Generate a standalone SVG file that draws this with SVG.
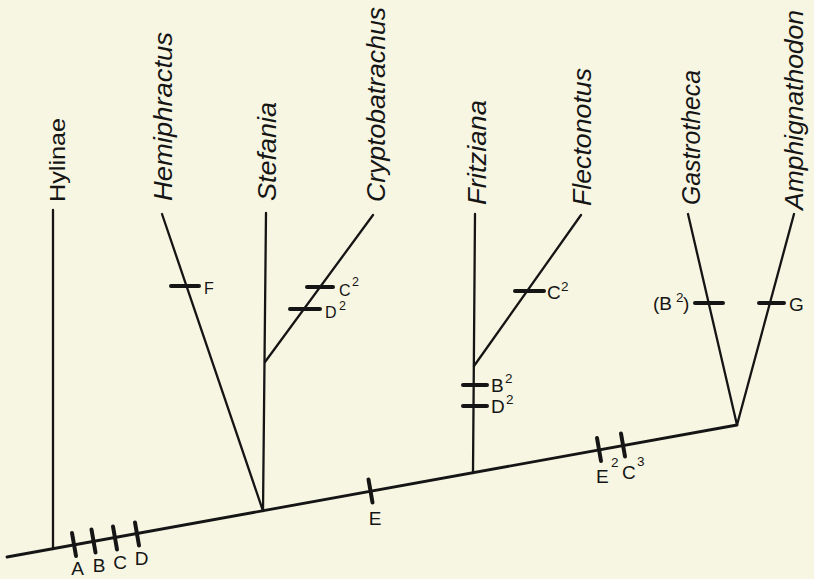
<svg xmlns="http://www.w3.org/2000/svg" width="814" height="579" viewBox="0 0 814 579">
<style>
.bg{fill:#f7f6e2}
.br{stroke:#151515;stroke-width:2.3;fill:none;stroke-linecap:round;stroke-linejoin:round}
.base{stroke:#151515;stroke-width:2.8;fill:none;stroke-linecap:round}
.tk{stroke:#151515;stroke-width:4;stroke-linecap:round}
.tx{font-family:"Liberation Sans",Arial,sans-serif;fill:#151515}
.taxon{font-size:26px;font-style:italic}
.up{font-size:22px}
.lb{font-size:19px}
.lbs{font-size:16px}
.sup{font-size:13.5px}
.sups{font-size:12.5px}
</style>
<rect class="bg" x="0" y="0" width="814" height="579"/>
<g id="connectors">
<line class="base" x1="7" y1="557" x2="737" y2="425"/>
<line class="br" x1="53" y1="549" x2="53" y2="210"/>
<line class="br" x1="263" y1="511" x2="162" y2="214"/>
<line class="br" x1="263" y1="511" x2="266" y2="213"/>
<line class="br" x1="265" y1="362" x2="373" y2="215"/>
<line class="br" x1="473" y1="473" x2="475" y2="214"/>
<line class="br" x1="474" y1="366" x2="581" y2="215"/>
<polyline class="br" points="688,214 737,425 794,214"/>
</g>
<g id="ticks">
<line class="tk" x1="72" y1="533" x2="76" y2="556"/>
<line class="tk" x1="91.5" y1="529.5" x2="95.5" y2="552.5"/>
<line class="tk" x1="113" y1="526.5" x2="117" y2="549.5"/>
<line class="tk" x1="135" y1="522.5" x2="139" y2="545.5"/>
<line class="tk" x1="368.5" y1="479.5" x2="372.5" y2="502.5"/>
<line class="tk" x1="597" y1="438" x2="601" y2="461"/>
<line class="tk" x1="621" y1="433.5" x2="625" y2="456.5"/>
<line class="tk" x1="171" y1="286" x2="199" y2="286"/>
<line class="tk" x1="307" y1="287" x2="333" y2="287"/>
<line class="tk" x1="290" y1="309" x2="320" y2="309"/>
<line class="tk" x1="515" y1="291" x2="544" y2="291"/>
<line class="tk" x1="463" y1="385" x2="487" y2="385"/>
<line class="tk" x1="463" y1="406" x2="487" y2="406"/>
<line class="tk" x1="695" y1="303" x2="723" y2="303"/>
<line class="tk" x1="759" y1="303" x2="784" y2="303"/>
</g>
<g id="node-hylinae"><text class="tx up" transform="translate(65,202) rotate(-90)" textLength="84" lengthAdjust="spacingAndGlyphs">Hylinae</text></g>
<g id="node-hemiphractus"><text class="tx taxon" transform="translate(172,201) rotate(-90)" textLength="169" lengthAdjust="spacingAndGlyphs">Hemiphractus</text></g>
<g id="node-stefania"><text class="tx taxon" transform="translate(276,201) rotate(-90)" textLength="99" lengthAdjust="spacingAndGlyphs">Stefania</text></g>
<g id="node-cryptobatrachus"><text class="tx taxon" transform="translate(385,202) rotate(-90)" textLength="195" lengthAdjust="spacingAndGlyphs">Cryptobatrachus</text></g>
<g id="node-fritziana"><text class="tx taxon" transform="translate(486,205) rotate(-90)" textLength="105" lengthAdjust="spacingAndGlyphs">Fritziana</text></g>
<g id="node-flectonotus"><text class="tx taxon" transform="translate(591,206) rotate(-90)" textLength="138" lengthAdjust="spacingAndGlyphs">Flectonotus</text></g>
<g id="node-gastrotheca"><text class="tx taxon" transform="translate(700,205) rotate(-90)" textLength="135" lengthAdjust="spacingAndGlyphs">Gastrotheca</text></g>
<g id="node-amphignathodon"><text class="tx taxon" transform="translate(803,210) rotate(-90)" textLength="200" lengthAdjust="spacingAndGlyphs">Amphignathodon</text></g>
<g id="labels">
<text class="tx lb" x="77.5" y="575" text-anchor="middle">A</text>
<text class="tx lb" x="99" y="572" text-anchor="middle">B</text>
<text class="tx lb" x="120" y="569" text-anchor="middle">C</text>
<text class="tx lb" x="141.5" y="565" text-anchor="middle">D</text>
<text class="tx lb" x="375" y="525" text-anchor="middle">E</text>
<text class="tx lb" x="596" y="483">E</text><text class="tx sup" x="611" y="467">2</text>
<text class="tx lb" x="622" y="479">C</text><text class="tx sup" x="637" y="466">3</text>
<text class="tx lbs" x="204" y="294">F</text>
<text class="tx lbs" x="339" y="296">C</text><text class="tx sups" x="352" y="286">2</text>
<text class="tx lbs" x="325" y="318">D</text><text class="tx sups" x="339" y="310">2</text>
<text class="tx lb" x="547" y="299">C</text><text class="tx sup" x="561" y="291">2</text>
<text class="tx lb" x="491" y="392">B</text><text class="tx sup" x="505" y="383">2</text>
<text class="tx lb" x="491" y="413">D</text><text class="tx sup" x="506" y="404">2</text>
<text class="tx lb" x="653" y="310">(B</text><text class="tx sup" x="676" y="302">2</text><text class="tx lb" x="683" y="310">)</text>
<text class="tx lb" x="789" y="311">G</text>
</g>
</svg>
